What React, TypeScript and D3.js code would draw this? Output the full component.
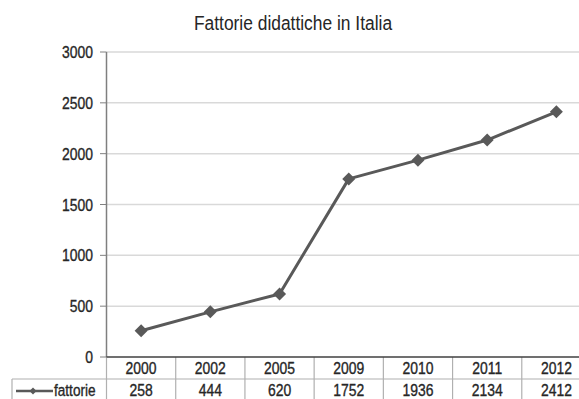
import React from "react";
import * as d3 from "d3";

const years = ["2000", "2002", "2005", "2009", "2010", "2011", "2012"];
const fattorie = [258, 444, 620, 1752, 1936, 2134, 2412];
const yTicks = [0, 500, 1000, 1500, 2000, 2500, 3000];
const seriesName = "fattorie";
const title = "Fattorie didattiche in Italia";

const W = 579;
const H = 399;
const left = 106.5;
const right = 591;
const top = 52;
const bottom = 357;
const rowH = 22;

const font = "'Liberation Sans', Arial, sans-serif";
const textColor = "#262626";

function SText({ x, y, anchor, size, sx, heavy = true, children }: any) {
  return (
    <text
      transform={`translate(${x},${y}) scale(${sx},1)`}
      textAnchor={anchor}
      fontSize={size}
      fontFamily={font}
      fill={textColor}
      stroke={heavy ? textColor : "none"}
      strokeWidth={heavy ? 0.35 : 0}
    >
      {children}
    </text>
  );
}

export default function App() {
  const x = d3.scaleBand<string>().domain(years).range([left, right]).padding(0);
  const y = d3.scaleLinear().domain([0, 3000]).range([bottom, top]);
  const cx = (d: string) => (x(d) as number) + x.bandwidth() / 2;
  const line = d3
    .line<number>()
    .x((_, i) => cx(years[i]))
    .y((v) => y(v));
  const diamond = (px: number, py: number, r: number) =>
    `M${px},${py - r}L${px + r},${py}L${px},${py + r}L${px - r},${py}Z`;

  return (
    <svg
      width={W}
      height={H}
      style={{ position: "absolute", left: 0, top: 0, background: "#fff" }}
    >
      <rect width={W} height={H} fill="#fff" />
      <SText x={293} y={30} anchor="middle" size={20} sx={0.87} heavy={false}>
        {title}
      </SText>
      {yTicks.map((t) => (
        <g key={t}>
          {t > 0 && (
            <line x1={left} x2={W} y1={y(t)} y2={y(t)} stroke="#d9d9d9" strokeWidth={1.5} />
          )}
          <line x1={100} x2={left} y1={y(t)} y2={y(t)} stroke="#808080" strokeWidth={1} />
          <SText x={93} y={y(t) + 6} anchor="end" size={17} sx={0.82}>
            {t}
          </SText>
        </g>
      ))}
      {/* y axis */}
      <line x1={left} x2={left} y1={top} y2={bottom} stroke="#7f7f7f" strokeWidth={1.5} />
      {/* table */}
      <line x1={12} x2={W} y1={bottom + rowH} y2={bottom + rowH} stroke="#b0b0b0" strokeWidth={1.2} />
      <line x1={12} x2={12} y1={bottom + rowH} y2={H} stroke="#b0b0b0" strokeWidth={1.2} />
      {years.map((yr) => (
        <line
          key={yr}
          x1={(x(yr) as number) + x.bandwidth()}
          x2={(x(yr) as number) + x.bandwidth()}
          y1={bottom}
          y2={H}
          stroke="#b0b0b0"
          strokeWidth={1.2}
        />
      ))}
      <line x1={left} x2={left} y1={bottom} y2={H} stroke="#b0b0b0" strokeWidth={1.2} />
      {/* x axis */}
      <line x1={left} x2={W} y1={bottom} y2={bottom} stroke="#404040" strokeWidth={1.5} />
      {years.map((yr, i) => (
        <g key={yr}>
          <SText x={cx(yr)} y={bottom + 17} anchor="middle" size={17} sx={0.82}>
            {yr}
          </SText>
          <SText x={cx(yr)} y={bottom + rowH + 17} anchor="middle" size={17} sx={0.82}>
            {fattorie[i]}
          </SText>
        </g>
      ))}
      {/* legend key */}
      <line x1={16} x2={53} y1={391} y2={391} stroke="#595959" strokeWidth={2.5} />
      <path d={diamond(33, 391, 3.5)} fill="#595959" />
      <SText x={54} y={396} anchor="start" size={17} sx={0.8}>
        {seriesName}
      </SText>
      {/* series */}
      <path d={line(fattorie) as string} fill="none" stroke="#595959" strokeWidth={3} strokeLinejoin="round" />
      {fattorie.map((v, i) => (
        <path key={i} d={diamond(cx(years[i]), y(v), 6.5)} fill="#595959" />
      ))}
    </svg>
  );
}
